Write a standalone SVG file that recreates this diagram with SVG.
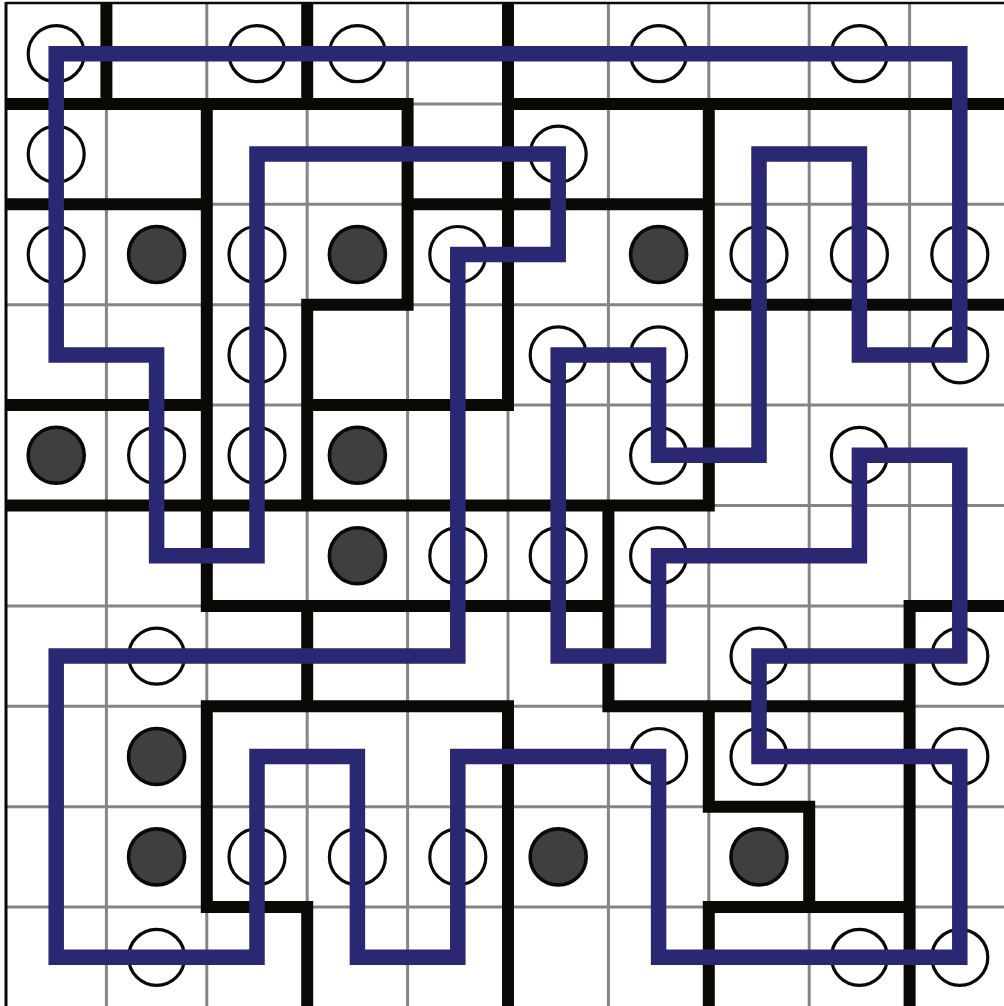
<svg xmlns="http://www.w3.org/2000/svg" width="1004" height="1006" viewBox="0 0 1004 1006">
<style>
.grid{stroke:#858585;stroke-width:3;fill:none}
.border{stroke:#0a0906;fill:none}
.wall{stroke:#0a0906;stroke-width:12;fill:none;stroke-linejoin:miter;stroke-linecap:butt}
.w{fill:#ffffff;stroke:#0a0906;stroke-width:3.2}
.b{fill:#403f3d;stroke:#0a0906;stroke-width:3.6}
.loop{stroke:#2a2872;stroke-width:15.5;fill:none;stroke-linejoin:miter}
</style>
<rect x="0" y="0" width="1004" height="1006" fill="#ffffff"/>
<g id="grid" class="grid">
<path d="M106.4,3.5V1006M206.8,3.5V1006M307.2,3.5V1006M407.6,3.5V1006M508,3.5V1006M608.4,3.5V1006M708.8,3.5V1006M809.2,3.5V1006M909.6,3.5V1006"/>
<path d="M6,103.9H1004M6,204.3H1004M6,304.7H1004M6,405.1H1004M6,505.5H1004M6,605.9H1004M6,706.3H1004M6,806.7H1004M6,907.1H1004"/>
</g>
<g id="border" class="border">
<path d="M6,3H1004" stroke-width="2.6"/>
<path d="M6,2V1006" stroke-width="3"/>
</g>
<g id="walls" class="wall">
<path d="M106.4,3.5V103.9"/>
<path d="M307.2,3.5V103.9"/>
<path d="M508,3.5V405.1H307.2"/>
<path d="M6,103.9H407.6V304.7H307.2V505.5"/>
<path d="M508,103.9H1004"/>
<path d="M206.8,103.9V605.9H608.4"/>
<path d="M608.4,505.5V706.3H909.6"/>
<path d="M6,204.3H206.8"/>
<path d="M407.6,204.3H708.8"/>
<path d="M708.8,103.9V505.5H6"/>
<path d="M708.8,304.7H1004"/>
<path d="M6,405.1H206.8"/>
<path d="M1004,605.9H909.6V1006"/>
<path d="M307.2,605.9V706.3"/>
<path d="M508,1006V706.3H206.8V907.1H307.2V1006"/>
<path d="M708.8,1006V907.1H909.6"/>
<path d="M708.8,706.3V806.7H809.2V907.1"/>
</g>
<g id="circles">
<g id="r0"><circle class="w" cx="56.2" cy="53.7" r="28"/><circle class="w" cx="257" cy="53.7" r="28"/><circle class="w" cx="357.4" cy="53.7" r="28"/><circle class="w" cx="658.6" cy="53.7" r="28"/><circle class="w" cx="859.4" cy="53.7" r="28"/></g>
<g id="r1"><circle class="w" cx="56.2" cy="154.1" r="28"/><circle class="w" cx="558.2" cy="154.1" r="28"/></g>
<g id="r2"><circle class="w" cx="56.2" cy="254.5" r="28"/><circle class="b" cx="156.6" cy="254.5" r="28"/><circle class="w" cx="257" cy="254.5" r="28"/><circle class="b" cx="357.4" cy="254.5" r="28"/><circle class="w" cx="457.8" cy="254.5" r="28"/><circle class="b" cx="658.6" cy="254.5" r="28"/><circle class="w" cx="759" cy="254.5" r="28"/><circle class="w" cx="859.4" cy="254.5" r="28"/><circle class="w" cx="959.8" cy="254.5" r="28"/></g>
<g id="r3"><circle class="w" cx="257" cy="354.9" r="28"/><circle class="w" cx="558.2" cy="354.9" r="28"/><circle class="w" cx="658.6" cy="354.9" r="28"/><circle class="w" cx="959.8" cy="354.9" r="28"/></g>
<g id="r4"><circle class="b" cx="56.2" cy="455.3" r="28"/><circle class="w" cx="156.6" cy="455.3" r="28"/><circle class="w" cx="257" cy="455.3" r="28"/><circle class="b" cx="357.4" cy="455.3" r="28"/><circle class="w" cx="658.6" cy="455.3" r="28"/><circle class="w" cx="859.4" cy="455.3" r="28"/></g>
<g id="r5"><circle class="b" cx="357.4" cy="555.7" r="28"/><circle class="w" cx="457.8" cy="555.7" r="28"/><circle class="w" cx="558.2" cy="555.7" r="28"/><circle class="w" cx="658.6" cy="555.7" r="28"/></g>
<g id="r6"><circle class="w" cx="156.6" cy="656.1" r="28"/><circle class="w" cx="759" cy="656.1" r="28"/><circle class="w" cx="959.8" cy="656.1" r="28"/></g>
<g id="r7"><circle class="b" cx="156.6" cy="756.5" r="28"/><circle class="w" cx="658.6" cy="756.5" r="28"/><circle class="w" cx="759" cy="756.5" r="28"/><circle class="w" cx="959.8" cy="756.5" r="28"/></g>
<g id="r8"><circle class="b" cx="156.6" cy="856.9" r="28"/><circle class="w" cx="257" cy="856.9" r="28"/><circle class="w" cx="357.4" cy="856.9" r="28"/><circle class="w" cx="457.8" cy="856.9" r="28"/><circle class="b" cx="558.2" cy="856.9" r="28"/><circle class="b" cx="759" cy="856.9" r="28"/></g>
<g id="r9"><circle class="w" cx="156.6" cy="957.3" r="28"/><circle class="w" cx="859.4" cy="957.3" r="28"/><circle class="w" cx="959.8" cy="957.3" r="28"/></g>
</g>
<g id="connectors">
<path class="loop" d="M56.2,53.7H959.8V354.9H859.4V154.1H759V455.3H658.6V354.9H558.2V656.1H658.6V555.7H859.4V455.3H959.8V656.1H759V756.5H959.8V957.3H658.6V756.5H457.8V957.3H357.4V756.5H257V957.3H56.2V656.1H457.8V254.5H558.2V154.1H257V555.7H156.6V354.9H56.2Z"/>
</g>
</svg>
